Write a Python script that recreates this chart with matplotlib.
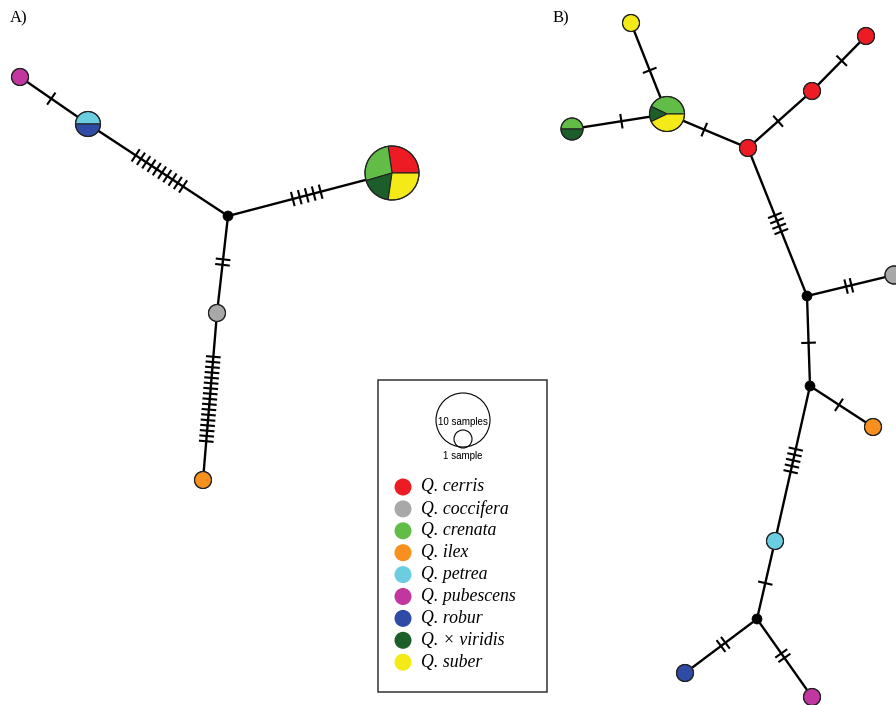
import matplotlib
matplotlib.use('Agg')
import matplotlib.pyplot as plt
from matplotlib.patches import Wedge, Circle, Rectangle
import numpy as np

# ---------------- data ----------------
species = ['cerris', 'coccifera', 'crenata', 'ilex', 'petrea',
           'pubescens', 'robur', '\u00d7 viridis', 'suber']
species_colors = ['#ED1C24', '#A8A8A8', '#62BD47', '#F7901E', '#6ACDE0',
                  '#C2369F', '#2F4BA6', '#1C5E2A', '#F4EA17']

# Network A: haplotype composition (species, samples); empty = median vector
hapA_comp = {
    'pub': [('pubescens', 1)],
    'petrob': [('petrea', 1), ('robur', 1)],
    'mv': [],
    'big': [('cerris', 3), ('crenata', 3), ('\u00d7 viridis', 2), ('suber', 3)],
    'cocc': [('coccifera', 1)],
    'ilex': [('ilex', 1)],
}
# edges: (from, to, number of mutations)
edgesA = [('pub', 'petrob', 1), ('petrob', 'mv', 10), ('mv', 'big', 5),
          ('mv', 'cocc', 2), ('cocc', 'ilex', 17)]

# Network B
hapB_comp = {
    'sub1': [('suber', 1)],
    'big': [('crenata', 3), ('\u00d7 viridis', 1), ('suber', 3)],
    'crv': [('crenata', 1), ('\u00d7 viridis', 1)],
    'cer1': [('cerris', 1)],
    'cer2': [('cerris', 1)],
    'cer3': [('cerris', 1)],
    'mv1': [],
    'cocc': [('coccifera', 1)],
    'mv2': [],
    'ilex': [('ilex', 1)],
    'pet': [('petrea', 1)],
    'mv3': [],
    'rob': [('robur', 1)],
    'pub': [('pubescens', 1)],
}
edgesB = [('sub1', 'big', 1), ('crv', 'big', 1), ('big', 'cer1', 1),
          ('cer1', 'cer2', 1), ('cer2', 'cer3', 1), ('cer1', 'mv1', 4),
          ('mv1', 'cocc', 2), ('mv1', 'mv2', 1), ('mv2', 'ilex', 1),
          ('mv2', 'pet', 5), ('pet', 'mv3', 1), ('mv3', 'rob', 2),
          ('mv3', 'pub', 2)]

# ---------------- layout (pixel positions, radii) ----------------
layoutA = {
    'pub': ((20, 77), 8.5), 'petrob': ((88, 124), 12.5), 'mv': ((228, 216), 5),
    'big': ((392, 173), 27), 'cocc': ((217, 313), 8.5), 'ilex': ((203, 480), 8.5),
}
tickfracA = [0.46, 0.51, 0.48, 0.475, 0.515]
tickspaceA = [6, 6.3, 7.2, 5.5, 5.3]

layoutB = {
    'sub1': ((631, 23), 8.5), 'big': ((667, 114), 17.5), 'crv': ((572, 129), 11),
    'cer1': ((748, 148), 8.5), 'cer2': ((812, 91), 8.5), 'cer3': ((866, 36), 8.5),
    'mv1': ((807, 296), 5), 'cocc': ((894, 275), 9), 'mv2': ((810, 386), 5),
    'ilex': ((873, 427), 8.5), 'pet': ((775, 541), 8.5), 'mv3': ((757, 619), 5),
    'rob': ((685, 673), 8.5), 'pub': ((812, 697), 8.5),
}
tickfracB = [0.52, 0.52, 0.46, 0.47, 0.55, 0.51, 0.48, 0.52, 0.46, 0.48, 0.54, 0.47, 0.47]
tickspaceB = [6] * 4 + [6, 5.8, 5.5, 6, 6, 5.8, 6, 5.5, 5.5]

W, H = 896, 705
fig = plt.figure(figsize=(W / 100, H / 100), dpi=100)
ax = fig.add_axes([0, 0, 1, 1])
ax.set_xlim(0, W)
ax.set_ylim(H, 0)
ax.axis('off')

col = dict(zip(species, species_colors))
LINE_LW = 1.7
TICK_LW = 1.5
TICK_HALF = 6.3


def draw_network(comp, edges, layout, fracs, spaces):
    for (a, b, n), f, s in zip(edges, fracs, spaces):
        p = np.array(layout[a][0], float)
        q = np.array(layout[b][0], float)
        ax.plot([p[0], q[0]], [p[1], q[1]], color='black', lw=LINE_LW,
                zorder=1, solid_capstyle='round')
        d = q - p
        u = d / np.hypot(*d)
        v = np.array([-u[1], u[0]])
        c = p + f * d
        for k in range(n):
            m = c + (k - (n - 1) / 2) * s * u
            e1 = m - TICK_HALF * v
            e2 = m + TICK_HALF * v
            ax.plot([e1[0], e2[0]], [e1[1], e2[1]], color='black',
                    lw=TICK_LW, zorder=1)
    for name, parts in comp.items():
        (x, y), r = layout[name]
        if not parts:
            ax.add_patch(Circle((x, y), r, facecolor='black',
                                edgecolor='black', lw=0.5, zorder=3))
            continue
        total = sum(c for _, c in parts)
        ang = 0.0
        for sp, c in parts:
            span = 360.0 * c / total
            # y axis inverted: visual ccw angle a -> data angle -a
            ax.add_patch(Wedge((x, y), r, -(ang + span), -ang,
                               facecolor=col[sp], edgecolor='#222222',
                               lw=0.8, zorder=3))
            ang += span
        ax.add_patch(Circle((x, y), r, facecolor='none',
                            edgecolor='#222222', lw=0.8, zorder=4))


draw_network(hapA_comp, edgesA, layoutA, tickfracA, tickspaceA)
draw_network(hapB_comp, edgesB, layoutB, tickfracB, tickspaceB)

serif = ['Liberation Serif', 'DejaVu Serif']
ax.text(10, 18, 'A)', fontsize=12, family=serif, ha='left', va='center')
ax.text(553, 18, 'B)', fontsize=12, family=serif, ha='left', va='center')

# legend box
ax.add_patch(Rectangle((378, 380), 169, 312, facecolor='white',
                       edgecolor='#333333', lw=1.1, zorder=2))
ax.add_patch(Circle((463, 420), 27, facecolor='none', edgecolor='black',
                    lw=0.8, zorder=3))
ax.add_patch(Circle((463, 439), 9, facecolor='none', edgecolor='black',
                    lw=0.8, zorder=3))
sans = ['Liberation Sans', 'DejaVu Sans']
ax.text(463, 422, '10 samples', fontsize=7, family=sans, ha='center',
        va='center', zorder=4)
ax.text(463, 456, '1 sample', fontsize=7, family=sans, ha='center',
        va='center', zorder=4)
for i, (sp, c) in enumerate(zip(species, species_colors)):
    yy = 487 + 21.9 * i
    ax.add_patch(Circle((403, yy), 8.5, facecolor=c, edgecolor='none', zorder=3))
    ax.text(421, yy, 'Q. ' + sp, fontsize=12.8, family=serif, style='italic',
            ha='left', va='center', zorder=4)

fig.savefig('out.png', dpi=100)
